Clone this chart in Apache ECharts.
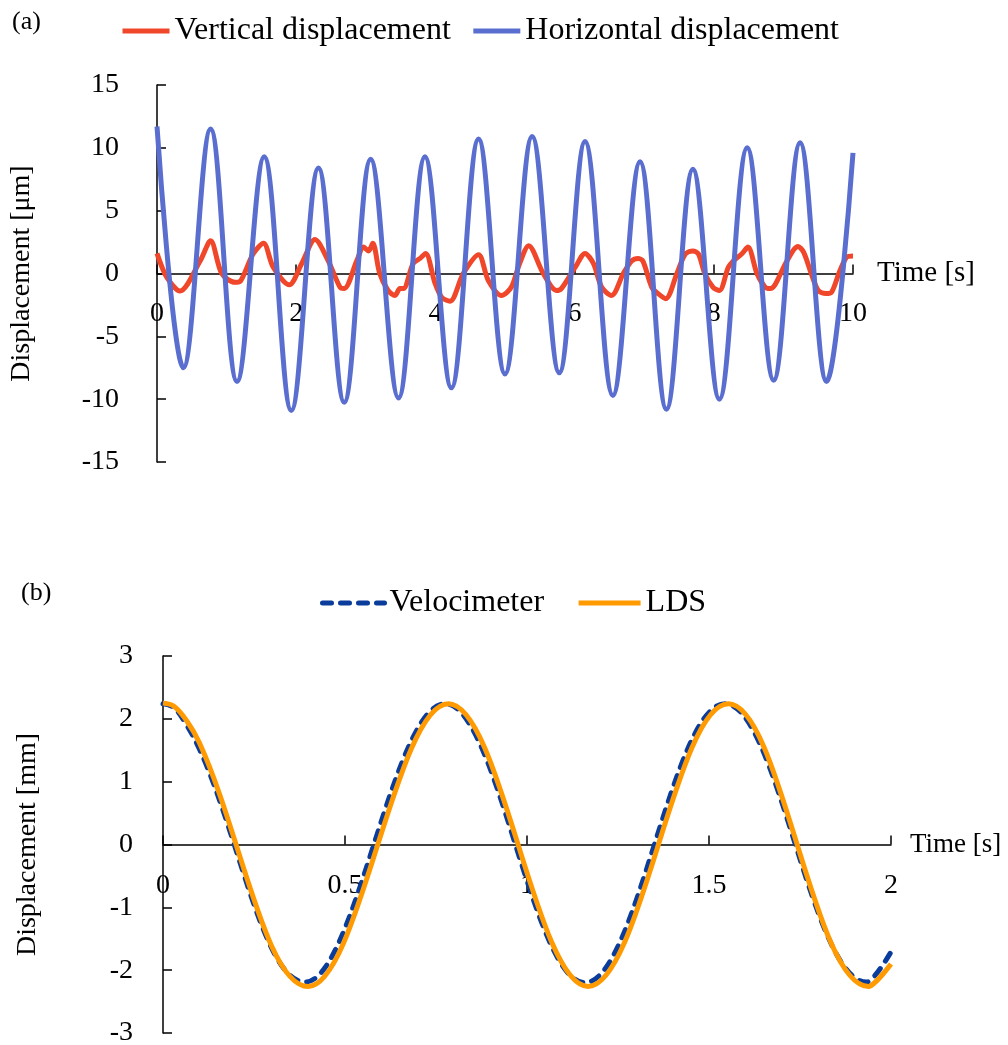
<!DOCTYPE html>
<html><head><meta charset="utf-8">
<script src="https://cdn.jsdelivr.net/npm/echarts@6/dist/echarts.min.js"></script>
<style>html,body{margin:0;padding:0;background:#fff}#c{width:1008px;height:1045px}</style>
</head><body><div id="c"></div>
<script>
const FONT = "'Liberation Serif','Times New Roman',serif";

// ---- (a) ----
const xTicksA = [0, 2, 4, 6, 8, 10];
const yTicksA = [-15, -10, -5, 0, 5, 10, 15];
const timeVert = [0, 0.14, 0.33, 0.62, 0.77, 0.93, 1.12, 1.2, 1.38, 1.53, 1.67, 1.9, 2.08, 2.27, 2.46, 2.63, 2.69, 2.87, 2.97, 3.04, 3.1, 3.2, 3.32, 3.42, 3.49, 3.54, 3.68, 3.78, 3.86, 3.99, 4.09, 4.21, 4.4, 4.62, 4.76, 4.95, 5.09, 5.21, 5.34, 5.55, 5.74, 5.81, 6.01, 6.15, 6.27, 6.39, 6.53, 6.7, 6.82, 6.91, 6.98, 7.11, 7.2, 7.31, 7.47, 7.59, 7.7, 7.78, 7.87, 7.99, 8.08, 8.21, 8.3, 8.4, 8.49, 8.62, 8.74, 8.81, 8.88, 9.05, 9.21, 9.29, 9.4, 9.5, 9.61, 9.69, 9.81, 9.91, 10];
const dispVert = [1.6, -0.3, -1.4, 1.0, 2.6, 0, -0.7, -0.6, 1.55, 2.4, 0.5, -0.9, 0.8, 2.7, 1.0, -1.1, -1.2, 1.0, 2.1, 1.8, 2.4, 0, -1.35, -1.75, -1.2, -1.2, 0.8, 1.2, 1.6, -0.7, -1.9, -2.2, 0, 1.5, -0.55, -1.75, -1.1, 0.8, 2.2, 0, -1.35, -1.2, 0.5, 1.6, 0.8, -1.1, -1.75, 0, 1.0, 1.2, 1.0, -1.1, -1.6, -2.0, 0, 1.55, 1.8, 1.55, 0, -1.1, -1.35, 0.5, 1.1, 1.55, 2.1, 0, -1.1, -1.2, -0.9, 1.0, 2.15, 1.7, 0, -1.35, -1.6, -1.5, 0.2, 1.3, 1.4];
const timeHoriz = [0, 0.38, 0.77, 1.15, 1.54, 1.93, 2.32, 2.69, 3.07, 3.47, 3.85, 4.23, 4.62, 5.00, 5.39, 5.78, 6.15, 6.55, 6.94, 7.32, 7.70, 8.08, 8.48, 8.86, 9.24, 9.62, 10.0];
const dispHoriz = [11.7, -7.5, 11.5, -8.6, 9.3, -10.9, 8.4, -10.25, 9.1, -9.9, 9.3, -9.1, 10.7, -8.0, 10.9, -7.9, 10.5, -9.7, 8.9, -10.8, 8.3, -10.0, 10.0, -8.5, 10.4, -8.6, 9.6];

// ---- (b) ----
const xTicksB = [0, 0.5, 1, 1.5, 2];
const yTicksB = [-3, -2, -1, 0, 1, 2, 3];
const timeVelo = [0, 0.03, 0.065, 0.1, 0.39, 0.775, 1.159, 1.544, 1.933, 2.0];
const dispVelo = [2.24, 2.18, 1.9, 1.52, -2.19, 2.24, -2.2, 2.24, -2.19, -1.71];
const timeLDS = [0, 0.03, 0.065, 0.1, 0.399, 0.784, 1.168, 1.553, 1.938, 2.0];
const dispLDS = [2.25, 2.2, 1.97, 1.62, -2.26, 2.24, -2.26, 2.24, -2.26, -1.9];

const zip = (t, v) => t.map((x, i) => [x, v[i]]);
const span = a => ({ min: a[0], max: a[a.length - 1], interval: a[1] - a[0] });

const axisLineX = { show: true, onZero: false, lineStyle: { color: '#000', width: 1.5 } };
const axisLineY = { show: true, onZero: false, lineStyle: { color: '#000', width: 1.5 } };
const tick = { show: true, inside: true, length: 9, lineStyle: { color: '#000', width: 1.5 } };

function xAxis(grid, ticks, nameSize, pad, margin, offset, nameGap) {
  return Object.assign({
    type: 'value', gridIndex: grid, position: 'bottom', offset: offset,
    name: 'Time [s]', nameLocation: 'end', nameGap: nameGap,
    nameTextStyle: { fontFamily: FONT, fontSize: nameSize, color: '#000', padding: pad, align: 'left' },
    axisLine: axisLineX, axisTick: tick, splitLine: { show: false },
    axisLabel: { fontFamily: FONT, fontSize: 28, color: '#000', margin: margin, showMinLabel: true, showMaxLabel: true }
  }, span(ticks));
}
function yAxis(grid, ticks, name, margin) {
  return Object.assign({
    type: 'value', gridIndex: grid,
    name: name, nameLocation: 'middle', nameGap: 121,
    nameTextStyle: { fontFamily: FONT, fontSize: 28, color: '#000' },
    axisLine: axisLineY, axisTick: tick, splitLine: { show: false },
    axisLabel: { fontFamily: FONT, fontSize: 28, color: '#000', margin: margin }
  }, span(ticks));
}

const chart = echarts.init(document.getElementById('c'), null, { renderer: 'canvas' });
chart.setOption({
  animation: false,
  backgroundColor: '#fff',
  graphic: [
    { type: 'text', left: 12, top: 9, style: { text: '(a)', font: '26px ' + FONT, fill: '#000' } },
    { type: 'text', left: 21, top: 580, style: { text: '(b)', font: '26px ' + FONT, fill: '#000' } }
  ],
  legend: [
    { data: ['Vertical displacement', 'Horizontal displacement'], left: 115, top: 10, itemWidth: 47, itemHeight: 14, itemGap: 20,
      itemStyle: { opacity: 0 }, lineStyle: { width: 5 },
      textStyle: { fontFamily: FONT, fontSize: 32, color: '#000' } },
    { data: ['Velocimeter', 'LDS'], left: 315, top: 582, itemWidth: 62, itemHeight: 14, itemGap: 32,
      itemStyle: { opacity: 0 }, lineStyle: { width: 5 },
      textStyle: { fontFamily: FONT, fontSize: 32, color: '#000' } }
  ],
  grid: [
    { left: 157, top: 85, width: 696, height: 377, outerBoundsMode: 'none', containLabel: false },
    { left: 163, top: 656, width: 728, height: 377, outerBoundsMode: 'none', containLabel: false }
  ],
  xAxis: [
    xAxis(0, xTicksA, 29, [0, 0, 22, 0], 26, -188.5, 24),
    xAxis(1, xTicksB, 27, [0, 0, 14, 0], 27, -188.5, 19)
  ],
  yAxis: [
    yAxis(0, yTicksA, 'Displacement [μm]', 38),
    yAxis(1, yTicksB, 'Displacement [mm]', 30)
  ],
  series: [
    { name: 'Vertical displacement', type: 'line', xAxisIndex: 0, yAxisIndex: 0, data: zip(timeVert, dispVert),
      smooth: 0.3, symbol: 'none', color: '#F0462A', lineStyle: { width: 5, color: '#F0462A' } },
    { name: 'Horizontal displacement', type: 'line', xAxisIndex: 0, yAxisIndex: 0, data: zip(timeHoriz, dispHoriz),
      smooth: 0.37, symbol: 'none', color: '#5A6ECF', lineStyle: { width: 5, color: '#5A6ECF' } },
    { name: 'Velocimeter', type: 'line', xAxisIndex: 1, yAxisIndex: 1, data: zip(timeVelo, dispVelo),
      smooth: 0.37, symbol: 'none', color: '#0A3C9C', lineStyle: { width: 5, color: '#0A3C9C', type: [9, 9], cap: 'round' } },
    { name: 'LDS', type: 'line', xAxisIndex: 1, yAxisIndex: 1, data: zip(timeLDS, dispLDS),
      smooth: 0.37, symbol: 'none', color: '#FF9A00', lineStyle: { width: 5, color: '#FF9A00' } }
  ]
});
</script></body></html>
